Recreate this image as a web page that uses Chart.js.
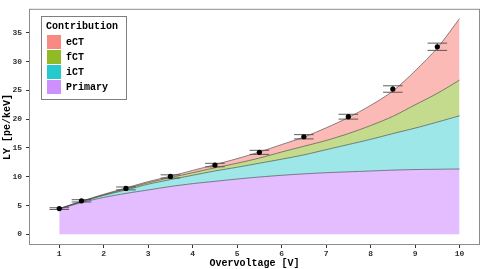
<!DOCTYPE html>
<html>
<head>
<meta charset="utf-8">
<script src="https://cdn.jsdelivr.net/npm/chart.js@4"></script>
<style>
  html, body { margin: 0; padding: 0; background: #fff; }
  #wrap { position: relative; width: 484px; height: 269px; }
</style>
</head>
<body>
<div id="wrap"><canvas id="ly" width="484" height="269"></canvas></div>
<script>
// model curves (cumulative stack tops)
const OV_GRID     = [1, 1.5, 2, 2.5, 3, 3.5, 4, 4.5, 5, 5.5, 6, 6.5, 7, 7.5, 8, 8.5, 9, 9.5, 10];
const PRIMARY_TOP = [4.4, 5.5, 6.4, 7.1, 7.7, 8.3, 8.8, 9.2, 9.6, 9.95, 10.25, 10.5, 10.7, 10.85, 11.0, 11.15, 11.25, 11.3, 11.35];
const ICT_TOP     = [4.42, 5.65, 6.75, 7.7, 8.7, 9.5, 10.25, 11.0, 11.65, 12.35, 13.05, 13.8, 14.7, 15.6, 16.5, 17.5, 18.45, 19.5, 20.6];
const FCT_TOP     = [4.44, 5.7, 6.85, 7.9, 8.95, 9.85, 10.7, 11.55, 12.35, 13.25, 14.3, 15.3, 16.3, 17.5, 18.9, 20.5, 22.5, 24.5, 26.8];
const ECT_TOP     = [4.45, 5.75, 6.95, 8.05, 9.15, 10.1, 11.1, 12.1, 13.15, 14.3, 15.6, 16.9, 18.5, 20.3, 22.4, 24.9, 28.4, 32.4, 37.5];

// measured light yield
const MEAS_OV  = [1, 1.5, 2.5, 3.5, 4.5, 5.5, 6.5, 7.5, 8.5, 9.5];
const MEAS_LY  = [4.46, 5.81, 7.97, 10.05, 12.03, 14.24, 16.95, 20.44, 25.25, 32.6];
const MEAS_ERR = [0.15, 0.2, 0.25, 0.28, 0.3, 0.35, 0.37, 0.42, 0.56, 0.63];
const ERR_HALF_WIDTH = 0.22;

const X_TICKS = [1, 2, 3, 4, 5, 6, 7, 8, 9, 10];
const Y_TICKS = [0, 5, 10, 15, 20, 25, 30, 35];

const LEGEND_TITLE = 'Contribution';
const LEGEND_LABELS = ['eCT', 'fCT', 'iCT', 'Primary'];
const LEGEND_SWATCH = ['rgba(248,118,109,0.85)', 'rgba(124,174,0,0.85)', 'rgba(0,191,196,0.85)', 'rgba(199,124,255,0.85)'];

const MONO = "'Liberation Mono', 'DejaVu Sans Mono', monospace";
const OUTLINE = 'rgba(60,60,60,0.85)';

const toPts = ys => OV_GRID.map((x, i) => ({ x: x, y: ys[i] }));

function areaDataset(label, ys, fill, color) {
    return {
        label: label,
        data: toPts(ys),
        borderColor: OUTLINE,
        borderWidth: 0.7,
        backgroundColor: color,
        fill: fill,
        pointRadius: 0,
        tension: 0.3,
        order: 1
    };
}

const frame = {
    id: 'frame',
    afterDraw(chart) {
        const { ctx, chartArea: a } = chart;
        ctx.save();
        ctx.strokeStyle = '#8c8c8c';
        ctx.lineWidth = 1;
        ctx.strokeRect(a.left + 0.5, a.top + 0.5, a.right - a.left - 1, a.bottom - a.top - 1);
        ctx.restore();
    }
};

const errorBars = {
    id: 'errorBars',
    afterDatasetsDraw(chart) {
        const { ctx, scales: { x, y } } = chart;
        ctx.save();
        ctx.strokeStyle = '#4d4d4d';
        ctx.lineWidth = 0.9;
        MEAS_OV.forEach((ov, i) => {
            const x0 = x.getPixelForValue(ov - ERR_HALF_WIDTH);
            const x1 = x.getPixelForValue(ov + ERR_HALF_WIDTH);
            const xm = x.getPixelForValue(ov);
            const yLo = y.getPixelForValue(MEAS_LY[i] - MEAS_ERR[i]);
            const yHi = y.getPixelForValue(MEAS_LY[i] + MEAS_ERR[i]);
            ctx.beginPath();
            ctx.moveTo(x0, yLo); ctx.lineTo(x1, yLo);
            ctx.moveTo(x0, yHi); ctx.lineTo(x1, yHi);
            ctx.moveTo(xm, yLo); ctx.lineTo(xm, yHi);
            ctx.stroke();
        });
        // points on top of the bars
        ctx.fillStyle = '#000';
        MEAS_OV.forEach((ov, i) => {
            ctx.beginPath();
            ctx.arc(x.getPixelForValue(ov), y.getPixelForValue(MEAS_LY[i]), 2.6, 0, Math.PI * 2);
            ctx.fill();
        });
        ctx.restore();
    }
};

const boxLegend = {
    id: 'boxLegend',
    afterDraw(chart) {
        const { ctx } = chart;
        ctx.save();
        ctx.fillStyle = '#fff';
        ctx.fillRect(41, 16, 85, 83);
        ctx.strokeStyle = '#7f7f7f';
        ctx.lineWidth = 1;
        ctx.strokeRect(41.5, 16.5, 85, 83);
        ctx.fillStyle = '#000';
        ctx.font = 'bold 10px ' + MONO;
        ctx.textBaseline = 'middle';
        ctx.textAlign = 'left';
        ctx.fillText(LEGEND_TITLE, 46, 26);
        LEGEND_LABELS.forEach((lab, i) => {
            const top = 35 + i * 15;
            ctx.fillStyle = LEGEND_SWATCH[i];
            ctx.fillRect(47, top, 14, 14);
            ctx.fillStyle = '#000';
            ctx.fillText(lab, 66, top + 7.5);
        });
        ctx.restore();
    }
};

new Chart(document.getElementById('ly'), {
    type: 'line',
    data: {
        datasets: [
            areaDataset('Primary', PRIMARY_TOP, 'origin', 'rgba(199,124,255,0.5)'),
            areaDataset('iCT', ICT_TOP, '-1', 'rgba(0,191,196,0.38)'),
            areaDataset('fCT', FCT_TOP, '-1', 'rgba(124,174,0,0.45)'),
            areaDataset('eCT', ECT_TOP, '-1', 'rgba(248,118,109,0.5)')
        ]
    },
    options: {
        responsive: false,
        animation: false,
        layout: { padding: { left: 0, top: 3, right: 4, bottom: 0 } },
        plugins: {
            legend: { display: false },
            tooltip: { enabled: false }
        },
        scales: {
            x: {
                type: 'linear',
                min: 0.32,
                max: 10.46,
                afterBuildTicks: s => { s.ticks = X_TICKS.map(v => ({ value: v })); },
                afterFit: s => { s.height = 24; },
                grid: { display: true, drawOnChartArea: false, drawTicks: true, tickLength: 3, color: '#333' },
                border: { display: false },
                ticks: { font: { family: MONO, size: 8, weight: 'bold' }, color: '#333', padding: 1, maxRotation: 0 },
                title: { display: true, text: 'Overvoltage [V]', font: { family: MONO, size: 10, weight: 'bold' }, color: '#000', padding: { top: 0, bottom: 0 } }
            },
            y: {
                min: -1.87,
                max: 39.2,
                afterBuildTicks: s => { s.ticks = Y_TICKS.map(v => ({ value: v })); },
                afterFit: s => { s.width = 29; },
                grid: { display: true, drawOnChartArea: false, drawTicks: true, tickLength: 3, color: '#333' },
                border: { display: false },
                ticks: { font: { family: MONO, size: 8, weight: 'bold' }, color: '#333', padding: 4 },
                title: { display: true, text: 'LY [pe/keV]', font: { family: MONO, size: 10, weight: 'bold' }, color: '#000', padding: { top: 1, bottom: 0 } }
            }
        }
    },
    plugins: [frame, errorBars, boxLegend]
});
</script>
</body>
</html>
